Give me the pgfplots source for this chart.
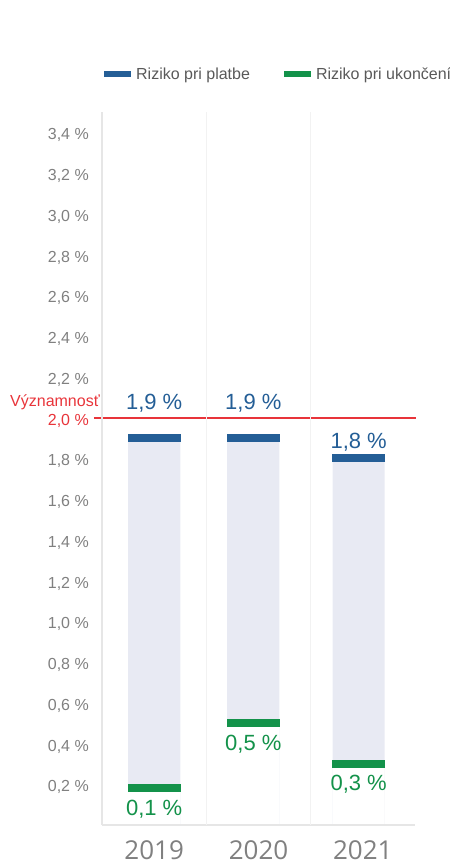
\documentclass[border=0pt]{standalone}
\usepackage{pgfplots}
\pgfplotsset{compat=1.18}
\usepackage{pgfplotstable}
\usepackage{fontspec}
\setmainfont{Liberation Sans}
\newfontfamily\yearfont{Open Sans}
\definecolor{cblue}{HTML}{245E96}
\definecolor{cgreen}{HTML}{13924A}
\definecolor{clav}{HTML}{E8EAF3}
\definecolor{cred}{HTML}{E8343A}
\definecolor{ctick}{HTML}{808080}
\definecolor{clegend}{HTML}{595959}
\definecolor{caxis}{HTML}{E6E6E6}
\definecolor{cgrid}{HTML}{F2F2F2}

\pgfplotstableread{
x top bot
0 1.90 0.18
0.95 1.90 0.50
1.96 1.80 0.30
}\ranges

\pgfplotstableread{
x y lab s
0 1.90 1.9 28
0.95 1.90 1.9 28
1.96 1.80 1.8 10
}\bluepts

\pgfplotstableread{
x y lab s
0 0.18 0.1 -27
0.95 0.50 0.5 -27
1.96 0.30 0.3 -27
}\greenpts

\begin{document}
\begin{tikzpicture}
\path[use as bounding box] (0,0) rectangle (450bp,866bp);
\begin{axis}[
  at={(102bp,41bp)}, anchor=south west,
  scale only axis, width=313bp, height=713bp,
  xmin=-0.5, xmax=2.5, ymin=0, ymax=3.5,
  axis x line*=bottom, axis y line*=left,
  axis line style={draw=caxis, line width=2bp, -},
  axis on top,
  major tick length=0pt,
  clip=false,
  xtick={0,1,2}, xticklabels={2019,2020,2021},
  xticklabel style={font=\yearfont\fontsize{26bp}{28bp}\selectfont, text=ctick, inner sep=0pt, anchor=base, yshift=-34bp},
  ytick={0.2,0.4,0.6,0.8,1.0,1.2,1.4,1.6,1.8,2.0,2.2,2.4,2.6,2.8,3.0,3.2,3.4},
  yticklabels={{0,2 \%},{0,4 \%},{0,6 \%},{0,8 \%},{1,0 \%},{1,2 \%},{1,4 \%},{1,6 \%},{1,8 \%},{\textcolor{cred}{2,0 \%}},{2,2 \%},{2,4 \%},{2,6 \%},{2,8 \%},{3,0 \%},{3,2 \%},{3,4 \%}},
  yticklabel style={font=\fontsize{16bp}{18bp}\selectfont, text=ctick, inner sep=0pt, anchor=east, xshift=-13bp, yshift=-3bp},
  extra x ticks={0.5,1.5}, extra x tick labels={},
  extra x tick style={grid=major, major grid style={draw=cgrid, line width=1.5bp}},
  legend style={at={(axis description cs:0,1)}, anchor=west, xshift=-1bp, yshift=38bp,
    draw=none, fill=none, legend columns=2, inner sep=0pt,
    font=\fontsize{16bp}{18bp}\selectfont, text=clegend,
    /tikz/every even column/.append style={column sep=29bp}},
  legend cell align=left,
]
\addlegendimage{legend image code/.code={\draw[cblue, line width=6bp] (0bp,0bp) -- (27bp,0bp);}}
\addlegendentry{Riziko pri platbe}
\addlegendimage{legend image code/.code={\draw[cgreen, line width=6bp] (0bp,0bp) -- (27bp,0bp);}}
\addlegendentry{Riziko pri ukončení}

% floating range bars
\addplot[ybar, bar shift=0pt, bar width=0.5, fill=clav, draw=none, forget plot] table[x=x, y=top] {\ranges};
\addplot[ybar, bar shift=0pt, bar width=0.5, fill=white, draw=none, forget plot] table[x=x, y=bot] {\ranges};

% significance line
\addplot[cred, line width=2bp, forget plot] coordinates {(-0.577,2) (2.51,2)};

% blue markers
\addplot[only marks, mark=-, mark size=26.5bp, mark options={line width=8bp, draw=cblue}, forget plot,
  point meta=explicit,
  visualization depends on={\thisrow{s} \as \myshift},
  nodes near coords={\pgfmathprintnumber[fixed, fixed zerofill, precision=1, use comma, assume math mode=true]{\pgfplotspointmeta}~\%},
  every node near coord/.style={anchor=base, yshift=\myshift bp, inner sep=0pt, text=cblue, font=\fontsize{22bp}{24bp}\selectfont}
] table[x=x, y=y, meta=lab] {\bluepts};

% green markers
\addplot[only marks, mark=-, mark size=26.5bp, mark options={line width=8bp, draw=cgreen}, forget plot,
  point meta=explicit,
  visualization depends on={\thisrow{s} \as \myshift},
  nodes near coords={\pgfmathprintnumber[fixed, fixed zerofill, precision=1, use comma, assume math mode=true]{\pgfplotspointmeta}~\%},
  every node near coord/.style={anchor=base, yshift=\myshift bp, inner sep=0pt, text=cgreen, font=\fontsize{22bp}{24bp}\selectfont}
] table[x=x, y=y, meta=lab] {\greenpts};

\node[anchor=east, text=cred, font=\fontsize{16bp}{18bp}\selectfont, inner sep=0pt, xshift=-2bp, yshift=15bp] at (axis cs:-0.5,2) {Významnosť};
\end{axis}
\end{tikzpicture}
\end{document}
